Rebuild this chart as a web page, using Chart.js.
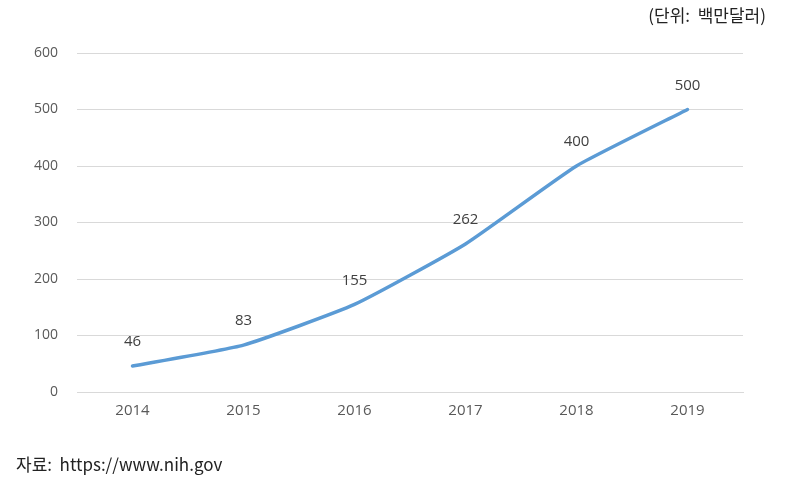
<!DOCTYPE html>
<html><head><meta charset="utf-8">
<script src="https://cdn.jsdelivr.net/npm/chart.js@4/dist/chart.umd.min.js"></script>
<style>html,body{margin:0;padding:0;background:#fff;}#wrap{width:808px;height:477px;position:relative;}</style>
</head><body><div id="wrap"><canvas id="c"></canvas></div>
<script>
const years = ["2014","2015","2016","2017","2018","2019"];
const values = [46, 83, 155, 262, 400, 500];
const yTicks = [0, 100, 200, 300, 400, 500, 600];
const unitLabel = "(단위:  백만달러)";
const sourceLabel = "자료:  https://www.nih.gov";

const extras = {
  id: 'extras',
  afterDatasetsDraw(chart) {
    const ctx = chart.ctx;
    const meta = chart.getDatasetMeta(0);
    ctx.save();
    ctx.fillStyle = '#404040';
    ctx.font = '15px "Open Sans", "Noto Sans", sans-serif';
    ctx.textAlign = 'center';
    ctx.textBaseline = 'middle';
    meta.data.forEach((pt, i) => {
      ctx.fillText(String(values[i]), pt.x, pt.y - 24);
    });
    ctx.restore();
  },
  afterDraw(chart) {
    const ctx = chart.ctx;
    ctx.save();
    ctx.fillStyle = '#222';
    ctx.font = '17px "Noto Sans CJK KR", sans-serif';
    ctx.textBaseline = 'middle';
    ctx.textAlign = 'right';
    ctx.fillText(unitLabel, 766, 16);
    ctx.textAlign = 'left';
    ctx.fillText(sourceLabel, 16, 465);
    ctx.restore();
  }
};

new Chart(document.getElementById('c'), {
  type: 'line',
  data: {
    labels: years,
    datasets: [{
      data: values,
      borderColor: '#5B9BD5',
      borderWidth: 3.5,
      pointRadius: 0,
      tension: 0.15,
      fill: false,
      borderCapStyle: 'round'
    }]
  },
  options: {
    responsive: true,
    maintainAspectRatio: false,
    animation: false,
    layout: { padding: { top: 53, right: 65, bottom: 55, left: 0 } },
    plugins: { legend: { display: false }, tooltip: { enabled: false } },
    scales: {
      x: {
        offset: true,
        grid: { display: false, drawTicks: false },
        border: { display: true, color: '#d9d9d9' },
        ticks: { color: '#595959', font: { family: '"Open Sans", sans-serif', size: 15 }, padding: 10 },
        afterFit(s) { s.height = 30; }
      },
      y: {
        min: 0, max: 600,
        afterBuildTicks(s) { s.ticks = yTicks.map(v => ({ value: v })); },
        grid: { color: '#d9d9d9', drawTicks: false },
        border: { display: false },
        ticks: { color: '#595959', font: { family: '"Open Sans", sans-serif', size: 14 }, padding: 19 },
        afterFit(s) { s.width = 77; }
      }
    }
  },
  plugins: [extras]
});
</script></body></html>
